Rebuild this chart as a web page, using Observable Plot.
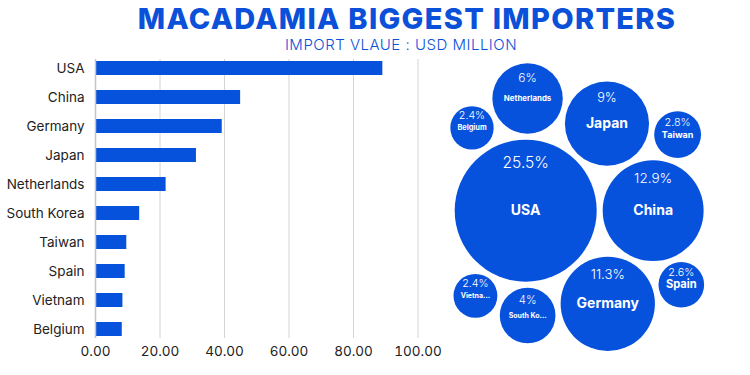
<!DOCTYPE html>
<html>
<head>
<meta charset="utf-8">
<script src="https://cdn.jsdelivr.net/npm/d3@7"></script>
<script src="https://cdn.jsdelivr.net/npm/@observablehq/plot@0.6"></script>
<style>
  html, body { margin: 0; padding: 0; background: #ffffff; }
  #wrap { position: relative; width: 750px; height: 375px; overflow: hidden; font-family: Inter, "Noto Sans", sans-serif; }
  #title { position: absolute; left: 407px; top: 1px; transform: translateX(-50%); white-space: nowrap;
           font-family: Inter, sans-serif; font-weight: 800; font-size: 29px; color: #0a50d8; letter-spacing: 1.3px; }
  #subtitle { position: absolute; left: 401px; top: 35px; transform: translateX(-50%); white-space: nowrap;
              font-family: Inter, sans-serif; font-weight: 300; font-size: 15px; color: #0a50d8; letter-spacing: 0.5px; }
  #bars { position: absolute; left: 0; top: 40px; }
  #bubbles { position: absolute; left: 440px; top: 40px; }
</style>
</head>
<body>
<div id="wrap">
  <div id="title"></div>
  <div id="subtitle"></div>
  <div id="bars"></div>
  <div id="bubbles"></div>
</div>
<script>
// ---- data ----
const titleText = "MACADAMIA BIGGEST IMPORTERS";
const subtitleText = "IMPORT VLAUE : USD MILLION";
const countries = ["USA", "China", "Germany", "Japan", "Netherlands", "South Korea", "Taiwan", "Spain", "Vietnam", "Belgium"];
const imports = [89.1, 45.0, 39.3, 31.3, 21.9, 13.7, 9.7, 9.2, 8.5, 8.3];
const shares = [25.5, 12.9, 11.3, 9, 6, 4, 2.8, 2.6, 2.4, 2.4];
const bubbleLabels = ["USA", "China", "Germany", "Japan", "Netherlands", "South Ko...", "Taiwan", "Spain", "Vietna...", "Belgium"];
const xTicks = [0, 20, 40, 60, 80, 100];

// ---- styles ----
const BLUE = "#0652dd";
const FONT = "Inter, 'Noto Sans', sans-serif";

document.getElementById("title").textContent = titleText;
document.getElementById("subtitle").textContent = subtitleText;

const rows = countries.map((c, i) => ({country: c, value: imports[i], share: shares[i], label: bubbleLabels[i]}));

// ---- bar chart ----
const bars = Plot.plot({
  width: 450,
  height: 335,
  marginLeft: 95,
  marginRight: 32.5,
  marginTop: 19,
  marginBottom: 37,
  style: {fontFamily: FONT, fontSize: "13px", color: "#222", background: "transparent"},
  x: {domain: [0, 100], label: null, axis: null},
  y: {domain: countries, paddingInner: 0.524, paddingOuter: 0, label: null, axis: null},
  marks: [
    Plot.gridX(xTicks.filter(d => d > 0), {stroke: "#d4d4d4", strokeOpacity: 1, strokeWidth: 1}),
    Plot.barX(rows, {x: "value", y: "country", fill: BLUE}),
    Plot.ruleX([0], {stroke: "#c4c4c4", strokeWidth: 1.5}),
    Plot.axisX(xTicks, {tickSize: 0, tickPadding: 8, tickFormat: d => d.toFixed(2), fontSize: 13.5, fill: "#222", label: null}),
    Plot.axisY({tickSize: 0, tickPadding: 11, fontSize: 13.5, fill: "#222", label: null})
  ]
});
document.getElementById("bars").appendChild(bars);

// ---- bubble pack ----
const RMAX = 71;
const PAD = 6;
const rOf = d3.scaleSqrt().domain([0, d3.max(imports)]).range([0, RMAX]);
const nodes = rows.map(d => ({...d, rr: rOf(d.value), r: rOf(d.value) + PAD / 2}));
d3.packSiblings(nodes);

const canvas = document.createElement("canvas");
const ctx = canvas.getContext("2d");
ctx.font = "700 100px Inter";
nodes.forEach(n => {
  const w1 = Math.max(1, ctx.measureText(n.label).width) / 100;
  n.nameSize = Math.max(7, Math.min(14, 1.35 * n.rr / w1));
  n.pctSize = 8.5 + n.rr * 0.1;
  n.pctY = n.y - Math.max(12.5, n.rr * 0.75 - 6);
  n.pctText = n.share + "%";
});

const CX = 134, CY = 167.5; // pack centre within this panel
const bubbles = Plot.plot({
  width: 310,
  height: 335,
  margin: 0,
  style: {fontFamily: FONT, background: "transparent"},
  x: {domain: [-CX, 310 - CX], range: [0, 310], axis: null},
  y: {domain: [-CY, 335 - CY], range: [0, 335], axis: null},
  r: {type: "sqrt", domain: [0, d3.max(imports)], range: [0, RMAX]},
  marks: [
    Plot.dot(nodes, {x: d => d.x, y: d => d.y, r: d => d.value, fill: BLUE, stroke: "none"}),
    Plot.text(nodes, {x: d => d.x, y: d => d.pctY, text: d => d.pctText, fill: "white", fontWeight: 300, fontSize: d => d.pctSize}),
    Plot.text(nodes, {x: d => d.x, y: d => d.y, text: d => d.label, fill: "white", fontWeight: 700, fontSize: d => d.nameSize})
  ]
});
document.getElementById("bubbles").appendChild(bubbles);
</script>
</body>
</html>
